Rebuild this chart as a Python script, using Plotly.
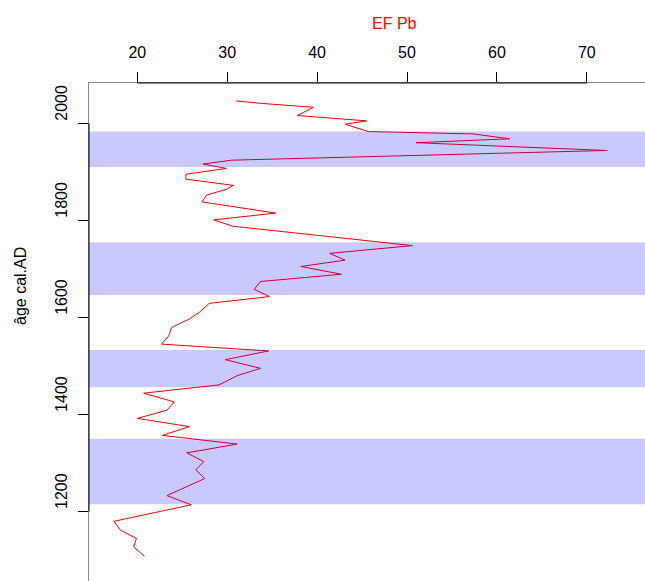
import plotly.graph_objects as go

# EF Pb profile (value, age cal. AD)
ef_pb = [31.0, 33.8, 39.6, 37.8, 45.5, 43.1, 45.7, 57.4, 61.4, 51.0, 72.2, 30.5,
         27.3, 29.9, 25.4, 25.4, 30.7, 29.9, 27.7, 27.2, 35.4, 28.5, 30.6, 50.6,
         41.4, 43.1, 38.2, 42.7, 33.7, 33.0, 34.7, 28.0, 27.0, 25.9, 23.8, 23.5,
         22.7, 34.6, 29.8, 33.7, 31.1, 29.1, 20.7, 24.1, 23.3, 20.0, 25.8, 22.8,
         31.1, 25.5, 27.4, 26.5, 27.5, 23.3, 26.0, 17.4, 18.1, 19.9, 19.6, 20.8]
age_ad = [2046, 2041, 2033, 2016, 2005, 1998, 1983, 1978, 1968, 1960, 1944, 1924,
          1916, 1907, 1895, 1885, 1872, 1864, 1852, 1838, 1815, 1801, 1788, 1748,
          1732, 1718, 1705, 1689, 1674, 1658, 1643, 1629, 1612, 1598, 1579, 1562,
          1545, 1531, 1513, 1495, 1480, 1461, 1444, 1426, 1409, 1392, 1375, 1357,
          1339, 1321, 1303, 1286, 1268, 1233, 1214, 1180, 1162, 1145, 1127, 1108]

# shaded periods (age cal. AD)
band_start = [1910, 1646, 1456, 1215]
band_end = [1983, 1755, 1533, 1350]

x_ticks = [20, 30, 40, 50, 60, 70]
y_ticks = [1200, 1400, 1600, 1800, 2000]

FONT = "Liberation Sans, Arial, sans-serif"

W, H = 645, 581
L, T = 89, 83

fig = go.Figure()
fig.add_trace(go.Scatter(x=ef_pb, y=age_ad, mode="lines",
                         line=dict(color="#ff0000", width=1), showlegend=False,
                         hoverinfo="skip"))

shapes = []
for b0, b1 in zip(band_start, band_end):
    shapes.append(dict(type="rect", xref="paper", x0=0, x1=1, yref="y", y0=b0, y1=b1,
                       fillcolor="rgba(0,0,255,0.21)", line=dict(width=0), layer="above"))
# dark axis segments spanning first..last tick
shapes.append(dict(type="line", xref="x", x0=x_ticks[0], x1=x_ticks[-1], yref="paper", y0=1, y1=1,
                   line=dict(color="#000000", width=1), layer="above"))
shapes.append(dict(type="line", xref="paper", x0=0, x1=0, yref="y", y0=y_ticks[0], y1=y_ticks[-1],
                   line=dict(color="#000000", width=1), layer="above"))

fig.update_layout(
    width=W, height=H,
    margin=dict(l=L, r=0, t=T, b=0, pad=0),
    paper_bgcolor="white", plot_bgcolor="white",
    font=dict(family=FONT, size=16, color="#000000"),
    shapes=shapes,
    xaxis=dict(side="top", range=[14.63, 76.47], tickvals=x_ticks, ticktext=[str(v) for v in x_ticks],
               ticks="outside", ticklen=10, tickwidth=1, tickcolor="#000000",
               showline=True, linecolor="#888888", linewidth=1, showgrid=False, zeroline=False,
               ticklabelstandoff=8, tickfont=dict(size=16)),
    yaxis=dict(range=[1057, 2083], tickvals=y_ticks, ticktext=[str(v) for v in y_ticks],
               ticks="outside", ticklen=10, tickwidth=1, tickcolor="#000000", tickangle=-90,
               showline=True, linecolor="#888888", linewidth=1, showgrid=False, zeroline=False,
               ticklabelstandoff=5, ticklabelshift=-18, tickfont=dict(size=16)),
    annotations=[
        dict(text="EF Pb", xref="paper", yref="paper", x=(394 - L) / (W - L), y=1,
             yshift=60, showarrow=False, font=dict(color="#ff0000", size=16),
             xanchor="center", yanchor="middle"),
        dict(text="âge cal.AD", xref="paper", yref="paper", x=0, xshift=-69,
             y=(H - 286) / (H - T), showarrow=False, textangle=-90,
             font=dict(color="#000000", size=16), xanchor="center", yanchor="middle"),
    ],
)

fig.write_html(
    "out.html",
    config={"displayModeBar": False},
    post_script="document.documentElement.style.overflow='hidden';"
                "document.body.style.margin='0';document.body.style.overflow='hidden';",
)
